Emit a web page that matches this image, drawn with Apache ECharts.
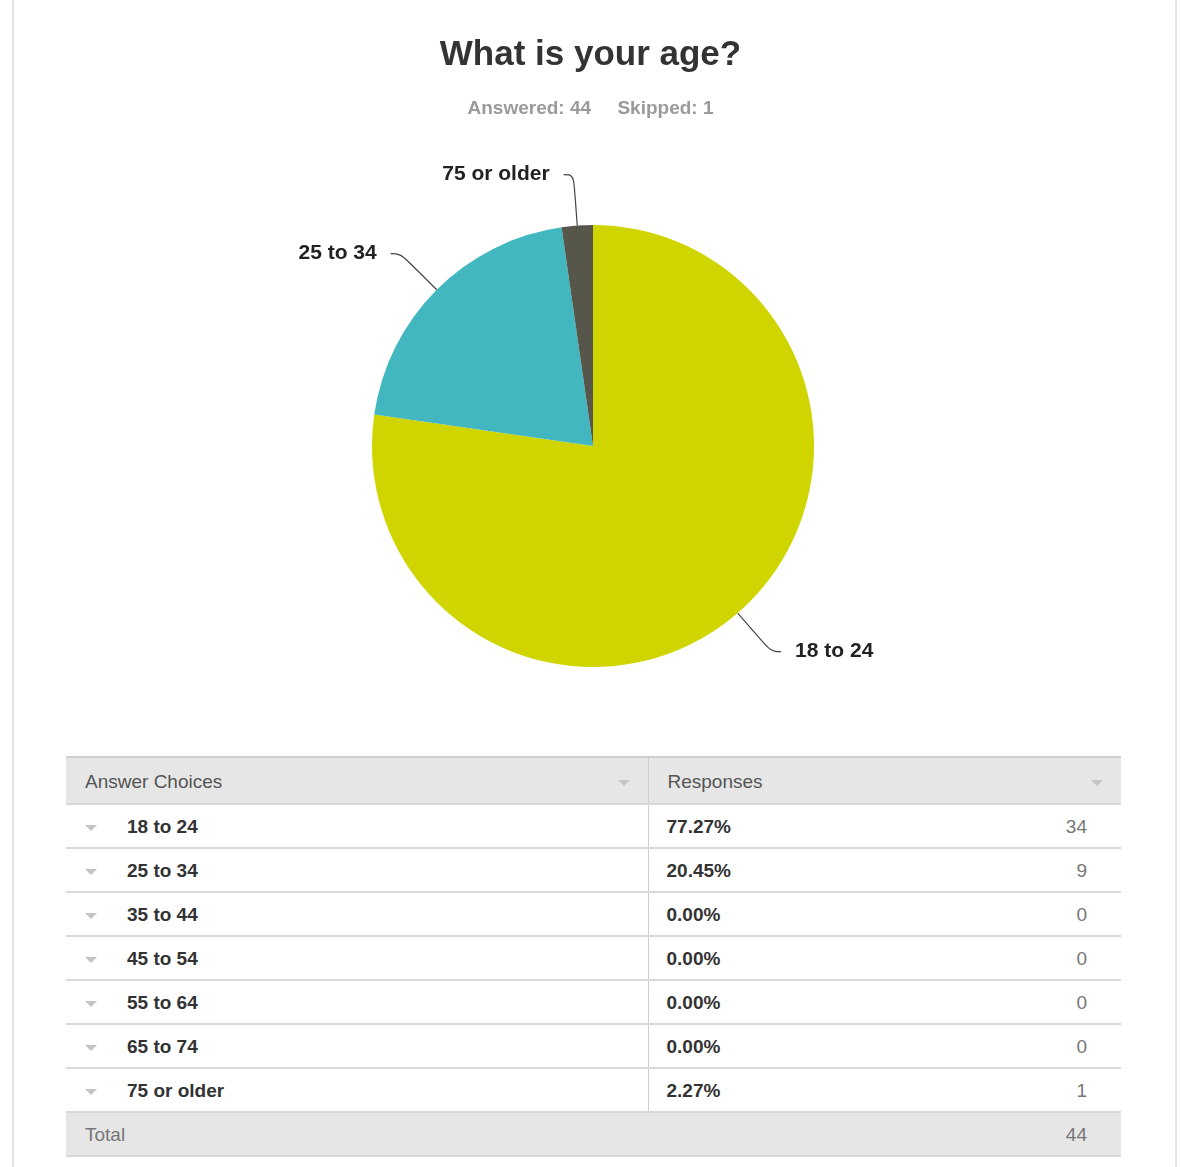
<!DOCTYPE html>
<html>
<head>
<meta charset="utf-8">
<script src="https://cdn.jsdelivr.net/npm/echarts@6/dist/echarts.min.js"></script>
<style>
  html, body { margin: 0; padding: 0; background: #fff; }
  body { width: 1181px; height: 1167px; position: relative; overflow: hidden;
         font-family: "Liberation Sans", Arial, Helvetica, sans-serif; }
  .frame { position: absolute; left: 12px; top: 0; width: 1161px; height: 1167px;
           border-left: 2px solid #e4e4e4; border-right: 2px solid #e4e4e4; }
  #chart { position: absolute; left: 0; top: 0; width: 1181px; height: 740px; }
  table { position: absolute; left: 66px; top: 756px; width: 1055px;
          border-collapse: collapse; table-layout: fixed; }
  td, th { height: 42px; padding: 2px 0 0 0; box-sizing: border-box; border-bottom: 2px solid #d9d9d9;
           font-size: 19px; vertical-align: middle; white-space: nowrap; }
  td { height: 44px; }
  th { background: #e6e6e6; color: #555; font-weight: normal; text-align: left;
       border-top: 2px solid #cfcfcf; height: 47px; }
  td.c1, th.c1 { border-right: 1px solid #cfcfcf; }
  .lbl { font-weight: bold; color: #333; }
  .pct { font-weight: bold; color: #333; padding-left: 18px; }
  .cnt { color: #777; text-align: right; padding-right: 34px; }
  .hdr { padding-left: 19px; position: relative; }
  .tri { display: inline-block; width: 0; height: 0; border-left: 6px solid transparent;
         border-right: 6px solid transparent; border-top: 6px solid #c4c4c4;
         vertical-align: middle; }
  .tri.row { margin-left: 19px; margin-right: 30px; }
  .tri.head { position: absolute; right: 18px; top: 22px; }
  tr.total td { background: #e6e6e6; color: #777; }
</style>
</head>
<body>
<div class="frame"></div>
<div id="chart"></div>
<table id="tbl"></table>
<script>
// Survey question and response counts per age bracket
const questionTitle = 'What is your age?';
const answeredCount = 44;
const skippedCount = 1;
const ageGroups = ['18 to 24', '25 to 34', '35 to 44', '45 to 54', '55 to 64', '65 to 74', '75 or older'];
const responseCounts = [34, 9, 0, 0, 0, 0, 1];
const sliceColors = ['#d0d500', '#43b7bf', '#8e8e8e', '#8e8e8e', '#8e8e8e', '#8e8e8e', '#56574a'];
const columnHeaders = ['Answer Choices', 'Responses'];

const total = responseCounts.reduce((a, b) => a + b, 0);
const fontStack = '"Liberation Sans", Arial, Helvetica, sans-serif';

const chart = echarts.init(document.getElementById('chart'));
chart.setOption({
  animation: false,
  title: {
    text: questionTitle,
    subtext: 'Answered: ' + answeredCount + '     Skipped: ' + skippedCount,
    left: 'center',
    top: 33,
    itemGap: 26,
    textStyle: { fontFamily: fontStack, fontSize: 35, fontWeight: 'bold', color: '#333' },
    subtextStyle: { fontFamily: fontStack, fontSize: 19, fontWeight: 'bold', color: '#9a9a9a' }
  },
  series: [{
    type: 'pie',
    center: [593, 446],
    radius: 221,
    startAngle: 90,
    clockwise: true,
    minShowLabelAngle: 0.5,
    avoidLabelOverlap: true,
    data: ageGroups.map((name, i) => ({
      name: name,
      value: responseCounts[i],
      itemStyle: { color: sliceColors[i] }
    })),
    label: {
      show: true,
      formatter: '{b}',
      fontFamily: fontStack,
      fontSize: 21,
      fontWeight: 'bold',
      color: '#222',
      distanceToLabelLine: 14
    },
    labelLine: {
      show: true,
      length: 51,
      length2: 10,
      smooth: 0.4,
      lineStyle: { color: '#444', width: 1.2 }
    },
    emphasis: { disabled: true }
  }]
});

// Response breakdown table
const tbl = document.getElementById('tbl');
let html = '<colgroup><col style="width:582px"><col style="width:473px"></colgroup>';
html += '<tr>' + columnHeaders.map((h, i) =>
  '<th class="hdr' + (i === 0 ? ' c1' : '') + '">' + h + '<span class="tri head"></span></th>').join('') + '</tr>';
ageGroups.forEach((name, i) => {
  const pct = (responseCounts[i] / total * 100).toFixed(2) + '%';
  html += '<tr><td class="c1"><span class="tri row"></span><span class="lbl">' + name + '</span></td>' +
          '<td><div style="display:flex;justify-content:space-between">' +
          '<span class="pct">' + pct + '</span><span class="cnt">' + responseCounts[i] + '</span></div></td></tr>';
});
html += '<tr class="total"><td style="padding-left:19px">Total</td><td class="cnt">' + total + '</td></tr>';
tbl.innerHTML = html;
</script>
</body>
</html>
